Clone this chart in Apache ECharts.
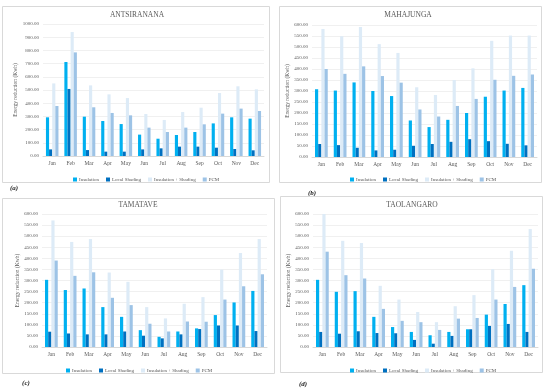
<!DOCTYPE html>
<html><head><meta charset="utf-8">
<script src="https://cdn.jsdelivr.net/npm/echarts@6/dist/echarts.min.js"></script>
<style>html,body{margin:0;padding:0;background:#fff}#c{width:550px;height:392px}</style>
</head><body><div id="c"></div>
<script>
const months = ['Jan','Feb','Mar','Apr','May','Jun','Jul','Aug','Sep','Oct','Nov','Dec'];
const seriesNames = ['Insulation','Local Shading','Insulation + Shading','PCM'];
const panelTitles = ['ANTSIRANANA','MAHAJUNGA','TAMATAVE','TAOLANGARO'];
const panelLabels = ['(a)','(b)','(c)','(d)'];
const yMax = [1000, 600, 600, 600];
const yInterval = [100, 50, 50, 50];

// ANTSIRANANA
const antInsulation = [293,712,298,265,242,162,131,159,182,247,293,283];
const antLocal      = [50,508,45,33,33,50,58,71,71,63,53,43];
const antInsShade   = [550,939,535,467,439,318,273,333,366,477,528,505];
const antPCM        = [379,785,369,326,308,215,182,215,240,321,359,341];
// MAHAJUNGA
const mahInsulation = [308,302,339,300,277,166,136,169,200,274,302,314];
const mahLocal      = [59,54,42,30,33,51,59,69,81,72,60,53];
const mahInsShade   = [582,549,591,513,473,317,282,350,403,528,552,552];
const mahPCM        = [400,378,412,368,338,216,184,232,264,351,369,375];
// TAMATAVE
const tamInsulation = [303,257,264,180,136,76,46,70,84,144,201,253];
const tamLocal      = [69,61,57,57,70,51,39,57,81,97,97,72];
const tamInsShade   = [571,474,487,336,294,180,129,195,225,349,424,487];
const tamPCM        = [390,321,337,222,189,105,70,115,114,214,274,328];
// TAOLANGARO
const taoInsulation = [303,249,252,136,90,68,53,68,80,146,194,279];
const taoLocal      = [68,60,71,63,62,32,15,50,80,95,104,68];
const taoInsShade   = [600,479,469,276,214,158,112,184,234,351,434,532];
const taoPCM        = [430,324,309,172,118,112,77,128,131,214,271,353];

const panelData = [
  [antInsulation, antLocal, antInsShade, antPCM],
  [mahInsulation, mahLocal, mahInsShade, mahPCM],
  [tamInsulation, tamLocal, tamInsShade, tamPCM],
  [taoInsulation, taoLocal, taoInsShade, taoPCM]
];
const colors = ['#00B0F0','#0070C0','#DDEBF7','#9DC3E6'];
const FONT = '"Liberation Serif", "DejaVu Serif", serif';

// layout
const boxes = [
  {x:2, y:6, w:267, h:176},
  {x:279, y:6, w:262, h:176},
  {x:2, y:198, w:272, h:175},
  {x:280, y:196, w:262, h:176}
];
const grids = [
  {left:43, top:24, width:221, height:132},
  {left:312, top:25, width:225, height:132},
  {left:42, top:214, width:225, height:133},
  {left:313, top:214, width:225, height:133}
];
const titlePos = [{x:137,y:15},{x:408,y:15},{x:138,y:205},{x:412,y:205}];
const legendTop = [172, 172, 363, 363];
const legendCenter = [138, 415, 131, 415];
const axisNameX = [16, 288, 18, 289];
const labelPos = [{x:14,y:188},{x:312,y:193},{x:26,y:383},{x:303,y:384}];

const option = {
  animation:false,
  backgroundColor:'#fff',
  color: colors,
  textStyle:{fontFamily:FONT},
  grid: grids.map(g=>({left:g.left, top:g.top, width:g.width, height:g.height, containLabel:false})),
  xAxis: grids.map((g,i)=>({
    type:'category', gridIndex:i, data:months,
    axisLine:{lineStyle:{color:'#D9D9D9'}}, axisTick:{show:false},
    axisLabel:{fontSize:5.5, color:'#595959', fontFamily:FONT, margin:5, interval:0}
  })),
  yAxis: grids.map((g,i)=>({
    type:'value', gridIndex:i, min:0, max:yMax[i], interval:yInterval[i],
    axisLine:{show:false}, axisTick:{show:false},
    splitLine:{lineStyle:{color:'#E6E6E6', width:0.6}},
    axisLabel:{fontSize:5, color:'#595959', fontFamily:FONT, margin:4, formatter:v=>v.toFixed(2)}
  })),
  legend: grids.map((g,i)=>({
    data: seriesNames, top: legendTop[i], left: legendCenter[i] - 70,
    itemWidth:4, itemHeight:4, itemGap:7, icon:'rect',
    textStyle:{fontSize:5, color:'#595959', fontFamily:FONT, padding:[0,0,0,-3]}
  })),
  series: [],
  graphic: []
};

panelData.forEach((arrs,i)=>{
  arrs.forEach((arr,k)=>{
    option.series.push({
      type:'bar', name:seriesNames[k], xAxisIndex:i, yAxisIndex:i, data:arr,
      barGap:'0%', barCategoryGap:'32%', itemStyle:{color:colors[k]}
    });
  });
});

boxes.forEach((b,i)=>{
  option.graphic.push({type:'rect', shape:{x:b.x+0.5,y:b.y+0.5,width:b.w,height:b.h},
    style:{fill:'none', stroke:'#D9D9D9', lineWidth:1}, silent:true});
  option.graphic.push({type:'text', x:titlePos[i].x, y:titlePos[i].y,
    style:{text:panelTitles[i], fill:'#595959', font:'7.5px '+FONT, textAlign:'center', textVerticalAlign:'middle'}});
  option.graphic.push({type:'text', x:axisNameX[i], y:grids[i].top+grids[i].height/2, rotation:Math.PI/2,
    style:{text:'Energy reduction (Kwh)', fill:'#595959', font:'5.5px '+FONT, textAlign:'center', textVerticalAlign:'middle'}});
  option.graphic.push({type:'text', x:labelPos[i].x, y:labelPos[i].y,
    style:{text:panelLabels[i], fill:'#222', font:'italic bold 7px '+FONT, textAlign:'center', textVerticalAlign:'middle'}});
});

const chart = echarts.init(document.getElementById('c'), null, {renderer:'canvas'});
chart.setOption(option);
</script></body></html>
